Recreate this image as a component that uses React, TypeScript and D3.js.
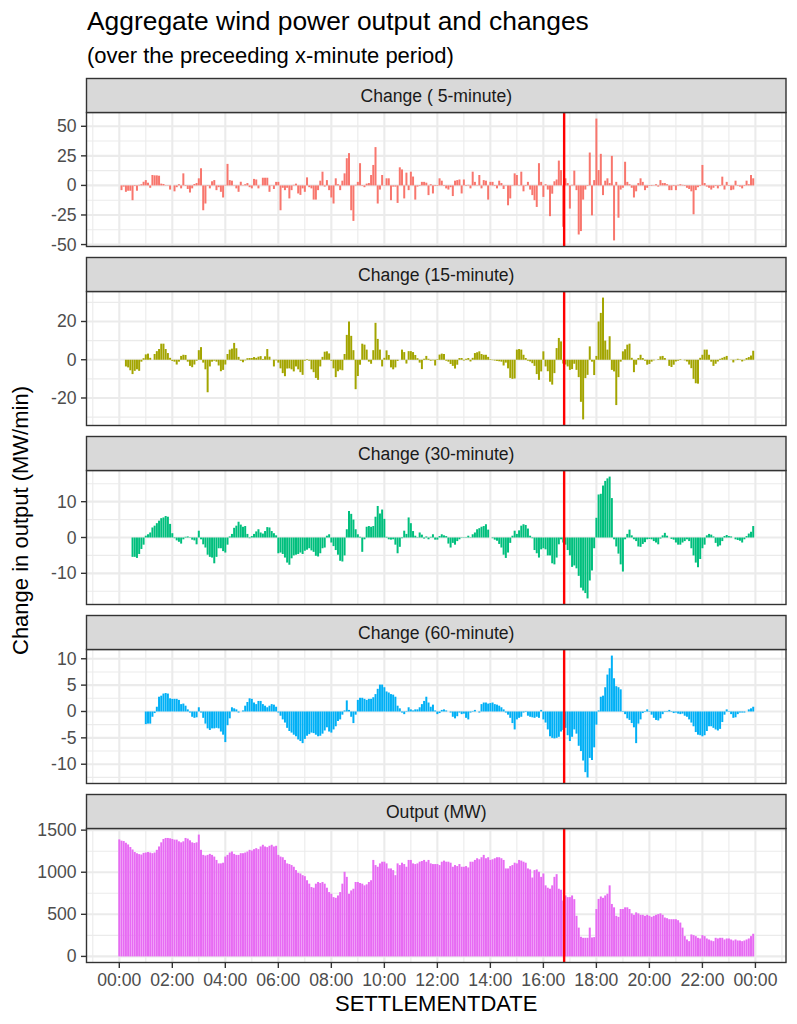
import React from "react";
import * as d3 from "d3";

// ---------------- data ----------------
const facetLabels = [
  "Change ( 5-minute)",
  "Change (15-minute)",
  "Change (30-minute)",
  "Change (60-minute)",
  "Output (MW)",
];
const facetColors = ["#F8766D", "#A3A500", "#00BF7D", "#00B0F6", "#E76BF3"];
const stepMinutes = 5;
const markerHour = 16;
const markerMinute = 47;

// MW/min change over preceding 5 minutes (one row per hour, 5-min steps)
const change5: (number | null)[] = [
  null, -4.0, -1.0, -5.4, -4.5, -4.5, -12.5, -0.5, -4.5, 0.5, 1.0, 3.1,
  4.5, 2.3, -2.0, 8.8, 8.5, 8.5, 8.2, 1.5, 1.2, 0.3, 0.3, -3.5,
  0.0, -5.0, -1.5, 1.0, -2.5, 10.2, -0.5, -3.0, -6.0, -2.5, 1.2, 2.0,
  6.0, 14.5, -21.0, -15.3, -0.5, -2.5, 3.5, 4.5, -4.0, -1.5, -5.4, -10.2,
  0.5, 18.2, 4.5, 4.0, 0.3, -2.5, -5.4, 3.1, 0.3, 1.0, 2.0, -1.5,
  -2.5, 5.5, 5.0, -2.5, 0.0, 6.5, 6.5, 6.5, -5.4, 0.3, -3.0, 3.0,
  3.0, -21.0, -2.0, -4.0, -2.0, -11.0, -4.0, 0.5, 1.5, -6.8, -8.0, -2.5,
  -5.4, 6.8, -1.5, -2.5, -12.0, -12.0, -4.0, 4.0, 11.6, -1.0, 4.5, -4.0,
  -10.2, -15.3, 6.0, 1.0, -4.0, 4.0, 10.2, 23.0, 27.3, -21.0, -30.0, 0.5,
  3.0, 18.8, -0.5, -1.5, 1.5, 2.0, 8.8, 17.3, 32.4, -15.3, -3.5, 8.8,
  0.3, 6.0, 6.0, -12.5, -1.0, -1.0, -14.8, 15.3, 13.5, -11.0, 10.8, -4.0,
  11.6, 7.5, -12.0, -1.0, -0.5, 3.0, 3.0, 2.3, -8.2, 1.0, -6.8, -0.5,
  -0.5, 6.0, 4.0, -0.5, -2.5, -3.5, -1.5, -9.0, 4.0, 4.5, 5.0, -6.8,
  5.0, -0.5, 0.5, -2.5, 11.6, 3.0, 0.3, 8.8, -2.5, 4.5, 4.0, -12.0,
  3.0, 3.0, -0.5, -2.5, 4.0, 2.0, -3.0, 0.3, -16.8, -11.0, 0.3, 10.2,
  8.8, 0.3, 11.6, -5.0, -0.5, 3.0, -3.5, -8.2, -12.5, -18.2, 18.8, 3.0,
  -9.7, 1.0, -3.5, -26.0, -7.0, 3.5, 5.0, 21.0, 13.0, -35.0, 6.0, 2.0,
  -19.6, 0.5, 12.5, -4.0, -41.5, -38.6, -12.0, -3.5, -0.5, 27.8, -25.3, 4.5,
  56.5, 13.0, 26.7, -8.2, 4.0, 6.0, 2.0, 25.0, -46.5, 3.0, -27.3, -3.5,
  -2.0, 20.0, 3.0, 1.0, -2.0, -10.2, -5.0, 2.0, 6.0, 3.0, -4.0, -2.0,
  -0.5, -0.5, 0.3, 1.0, -1.0, 4.5, 2.0, 2.0, 1.0, -4.0, -4.0, -0.5,
  -4.0, 0.5, 1.0, 0.5, -0.5, -2.0, -3.0, -5.0, -24.4, -4.0, -1.5, -0.5,
  17.3, 2.0, -1.0, -2.0, -3.5, -2.0, -0.5, -2.5, -0.5, 7.4, -3.5, 3.0,
  -0.5, -4.0, -3.5, 4.0, -0.5, -1.0, -2.5, -0.5, 4.0, 1.0, 8.8, 6.0,
];

const change15: (number | null)[] = [
  null, null, null, -3.5, -4.0, -5.5, -7.5, -5.8, -5.0, -5.8, -1.0, 0.8,
  2.8, 3.2, 1.0, 0.0, 3.0, 4.5, 5.6, 8.4, 8.4, 5.6, 3.5, 1.0,
  -0.6, -1.0, -2.5, -1.0, 2.0, 2.6, 2.5, -1.0, -3.2, -3.9, -2.5, -0.5,
  5.0, 6.6, -1.5, -5.0, -17.0, -3.5, -1.0, -0.5, -1.0, -3.0, -6.0, -5.3,
  -2.5, 3.0, 5.3, 5.8, 8.8, 6.0, 1.5, -0.5, -1.3, -0.3, 0.8, 0.9,
  0.9, 1.4, 1.0, 1.6, 1.9, 0.4, 1.8, 5.6, 1.6, 0.0, -3.5, -0.3,
  -1.5, -4.5, -7.0, -8.6, -4.6, -4.5, -5.0, -6.1, -3.5, -5.0, -6.5, -7.9,
  -0.5, 0.3, -0.5, -5.0, -6.5, -9.5, -10.5, -3.5, 1.5, 4.2, 4.4, 3.3,
  -0.5, -4.5, -9.1, -6.0, -5.2, -5.5, 3.0, 13.0, 20.0, 12.5, 5.0, -15.4,
  -8.5, -2.6, 8.4, 7.9, 5.3, -1.0, -2.1, 5.0, 19.3, 10.9, 5.3, -3.5,
  1.0, 4.9, 2.5, -4.0, -5.0, -4.0, -0.6, 0.0, 5.3, 4.0, -2.0, 4.5,
  4.5, 4.0, 2.5, 0.8, -1.5, -4.9, 0.5, 2.0, 0.5, -0.5, -0.3, -3.0,
  0.3, 2.7, 3.2, 3.0, -0.5, -1.0, -2.2, -3.2, -4.6, -2.6, 0.9, 0.9,
  -0.4, 0.5, 0.9, -0.9, 1.0, 3.5, 3.9, 4.4, 3.0, 2.6, 2.6, 1.5,
  0.3, -0.2, -0.4, -0.6, -0.8, -1.0, -3.0, -1.5, -4.5, -9.5, -10.0, -9.8,
  5.3, 5.6, 5.3, 2.6, 0.9, -0.5, -0.9, -1.8, -3.2, -7.5, -10.5, -6.1,
  4.4, -3.5, -6.0, -11.5, -13.0, -7.0, 6.1, 11.4, 9.6, -2.0, -2.5, -3.5,
  -5.3, -4.9, -2.1, -5.3, -9.1, -22.0, -31.2, -9.6, -7.9, 7.0, -1.0, -8.0,
  2.0, 20.0, 24.5, 32.5, 10.0, 5.3, 12.3, -5.3, -6.1, -23.7, -9.1, -1.0,
  4.4, 5.5, 7.9, 8.4, 1.0, -6.5, -2.6, 0.9, 2.6, 0.9, -0.5, -2.6,
  -2.2, -1.0, -0.3, 0.0, 0.3, 1.8, 2.0, 0.9, 0.0, -3.2, -3.8, -2.6,
  -0.9, -0.5, 0.3, 0.0, -0.3, -0.9, -2.5, -4.4, -10.0, -12.3, -12.5, 1.0,
  2.6, 5.3, 5.3, 2.6, -1.0, -3.2, -2.1, -0.9, 0.5, 1.0, 1.5, 2.0,
  0.0, -0.1, -1.4, -0.2, 0.5, 0.2, -0.9, -0.3, 0.9, 1.4, 2.2, 4.7,
];

const change30: (number | null)[] = [
  null, null, null, null, null, null, -5.4, -5.4, -5.7, -4.6, -3.2, -2.0,
  0.5, 0.9, 1.4, 2.8, 3.3, 4.0, 4.7, 5.4, 5.6, 6.0, 5.8, 3.8,
  1.2, -0.2, -0.8, -1.2, -1.7, -0.5, 0.2, 0.3, -0.1, -0.6, -0.8, -1.9,
  1.9, -0.5, -1.9, -2.8, -4.8, -5.4, -5.6, -7.2, -5.4, -3.0, -3.0, -3.8,
  -4.2, -2.0, 0.3, 1.0, 2.7, 3.3, 4.4, 3.6, 3.0, 3.2, 1.0, -0.2,
  0.4, 1.0, 1.7, 2.3, 1.4, 1.1, 1.8, 2.9, 2.8, 1.8, 1.2, 0.6,
  -4.4, -4.2, -4.6, -5.6, -7.0, -7.6, -5.8, -5.0, -4.8, -4.6, -4.2, -4.6,
  -3.7, -3.4, -3.0, -3.6, -4.0, -5.1, -5.3, -4.4, -3.0, -2.8, 0.5, 0.9,
  -1.4, -2.4, -3.5, -4.8, -6.5, -6.7, -5.0, 2.3, 7.4, 6.6, 5.0, 2.3,
  0.9, 0.2, -4.0, -0.5, 3.0, 3.2, 3.0, 3.2, 5.8, 8.8, 6.7, 7.8,
  5.2, 0.2, -0.5, -0.6, -0.5, -2.0, -4.4, -2.6, -0.2, 1.9, 1.0, 5.6,
  4.0, 1.8, 0.5, 0.1, 1.4, 0.8, -0.3, 0.3, -0.5, 0.2, 0.9, -0.6,
  -0.6, 0.4, 0.9, 0.6, 0.4, -1.7, -2.8, -1.5, -2.0, -1.0, -0.5, 0.1,
  0.1, -0.1, 0.5, 0.1, 0.9, 1.4, 2.3, 2.6, 3.0, 3.2, 3.7, 2.2,
  0.0, -0.2, -0.6, -0.9, -1.8, -2.8, -4.8, -5.7, -4.2, -1.5, 0.5, 1.9,
  1.0, 2.0, 3.3, 3.7, 3.5, 2.5, 0.5, -0.2, -3.5, -4.4, -5.6, -3.3,
  -3.0, -3.3, -5.0, -5.0, -7.2, -7.5, -5.6, -1.9, -0.5, -1.4, -2.0, -3.5,
  -5.0, -8.2, -7.8, -8.6, -10.7, -14.0, -14.8, -15.5, -17.0, -12.0, -9.2, -3.0,
  5.5, 12.0, 12.2, 14.5, 15.8, 16.5, 17.0, 11.0, -0.5, -2.5, -4.5, -7.5,
  -9.5, -0.5, 1.0, 2.2, 0.6, -0.5, -1.0, -2.5, -2.6, -1.8, -1.3, -0.5,
  -0.4, -0.5, -1.0, -1.4, -1.9, -0.3, 0.6, 1.3, 0.5, 0.0, -0.4, -0.6,
  -1.4, -2.0, -2.0, -1.4, -1.0, -0.5, -1.0, -3.0, -5.0, -7.0, -8.3, -6.0,
  -3.0, -2.0, 0.6, 1.0, 0.8, 0.3, -1.5, -2.5, -2.2, -1.0, 0.4, 0.7,
  0.4, 0.3, 0.0, -0.5, -0.7, -0.9, -1.4, -0.5, 0.4, 1.1, 1.6, 3.2,
];

const change60: (number | null)[] = [
  null, null, null, null, null, null, null, null, null, null, null, null,
  -2.4, -2.3, -2.3, -1.0, -0.3, 0.9, 2.8, 3.0, 3.4, 3.5, 3.4, 2.5,
  2.4, 2.4, 2.4, 2.2, 1.4, 1.5, 1.1, 0.4, -0.2, -1.0, -1.2, -1.1,
  0.8, -0.2, -1.2, -2.3, -3.2, -3.5, -3.2, -3.2, -3.1, -3.2, -3.8, -4.4,
  -5.8, -2.6, -1.3, 0.8, 0.6, 0.4, -0.2, 0.0, 0.2, 1.1, 1.8, 2.5,
  2.4, 1.7, 1.4, 2.0, 2.0, 1.4, 1.1, 0.8, 1.1, 1.4, 1.3, 0.9,
  -0.2, -0.8, -1.5, -2.1, -3.1, -3.7, -4.0, -4.4, -4.7, -5.3, -5.6, -6.0,
  -5.2, -4.6, -4.3, -4.0, -4.1, -4.4, -4.7, -4.6, -4.2, -3.6, -3.0, -3.8,
  -4.0, -3.4, -2.8, -1.8, -1.5, -0.6, 0.2, 2.1, 0.3, -1.0, -2.2, -0.6,
  2.2, 2.6, 2.6, 2.4, 2.2, 2.4, 2.4, 2.7, 3.3, 4.3, 5.1, 5.1,
  4.6, 3.8, 3.6, 3.3, 3.2, 2.8, 1.1, 0.6, -0.2, -0.5, 0.1, 0.8,
  0.4, 0.2, 0.4, 0.4, 0.8, 1.4, 2.0, 2.8, 1.7, 0.9, 1.3, 0.2,
  -0.5, -0.3, 0.3, 0.4, 0.2, 0.0, -0.2, -1.0, -1.3, -0.9, -0.2, -0.5,
  -0.4, -1.2, -1.5, -0.2, 0.1, 0.3, 0.0, -0.2, 1.4, 1.7, 1.7, 1.5,
  1.6, 1.7, 1.4, 1.3, 1.1, 0.8, 0.4, -0.2, -0.6, -1.2, -2.2, -3.4,
  -1.5, -1.2, -1.0, -0.2, 0.1, -0.8, -1.0, -1.1, -1.2, -1.0, -1.2, 0.3,
  -1.5, -2.1, -3.4, -4.7, -5.0, -5.1, -5.0, -4.8, -3.8, -3.5, -3.1, -4.5,
  -5.6, -4.8, -3.4, -4.2, -6.5, -7.5, -9.3, -11.5, -12.5, -8.8, -9.2, -6.8,
  -2.5, 0.2, 2.8, 3.0, 4.6, 7.0, 8.2, 10.6, 6.3, 4.8, 4.6, 4.2,
  0.1, -0.5, -1.3, -1.6, -2.2, -3.0, -6.0, -2.3, -1.5, -0.3, -0.1, 0.4,
  0.1, -0.6, -1.2, -1.6, -1.7, -1.3, -0.5, 0.1, 0.1, 0.3, -0.1, -0.3,
  -0.2, -0.4, -0.5, -0.4, -0.8, -1.0, -1.5, -2.1, -2.8, -3.9, -4.4, -4.5,
  -4.7, -4.5, -3.7, -2.8, -2.8, -3.1, -3.4, -3.6, -3.3, -2.0, -0.6, 0.4,
  0.1, -0.5, -1.2, -1.1, -0.5, -0.2, -0.2, -0.2, 0.0, 0.4, 0.6, 0.9,
];

// aggregate output, MW
const output: number[] = [
  1390, 1375, 1370, 1350, 1330, 1300, 1270, 1240, 1225, 1215, 1210, 1230,
  1234, 1240, 1234, 1226, 1234, 1266, 1306, 1355, 1395, 1407, 1407, 1403,
  1395, 1387, 1387, 1367, 1355, 1367, 1407, 1399, 1379, 1355, 1347, 1355,
  1447, 1266, 1206, 1198, 1206, 1218, 1206, 1186, 1146, 1105, 1105, 1113,
  1186, 1206, 1234, 1246, 1218, 1206, 1206, 1226, 1226, 1234, 1246, 1266,
  1258, 1274, 1286, 1274, 1306, 1326, 1306, 1298, 1314, 1326, 1306, 1314,
  1206, 1186, 1178, 1146, 1105, 1097, 1085, 1065, 1025, 993, 985, 965,
  953, 905, 864, 824, 816, 864, 884, 872, 884, 864, 816, 764,
  744, 704, 696, 724, 764, 864, 1005, 945, 744, 784, 804, 884,
  884, 872, 864, 844, 856, 884, 905, 1146, 1085, 1065, 1105, 1125,
  1125, 1105, 1045, 1045, 1025, 965, 1105, 1085, 1113, 1097, 1065, 1146,
  1146, 1105, 1097, 1105, 1125, 1133, 1146, 1125, 1146, 1105, 1097, 1097,
  1097, 1085, 1125, 1138, 1125, 1125, 1113, 1065, 1085, 1073, 1097, 1065,
  1065, 1073, 1057, 1125, 1125, 1146, 1166, 1154, 1178, 1206, 1166, 1178,
  1146, 1154, 1166, 1178, 1178, 1166, 1146, 1045, 1045, 1073, 1085, 1113,
  1105, 1146, 1138, 1125, 1113, 1045, 1033, 937, 1025, 1033, 1005, 945,
  985, 844, 816, 804, 844, 945, 977, 804, 792, 663, 724, 704,
  704, 724, 680, 482, 342, 233, 221, 221, 221, 342, 225, 229,
  563, 683, 712, 696, 724, 744, 844, 623, 583, 482, 470, 563,
  563, 583, 583, 563, 511, 494, 523, 511, 494, 494, 482, 494,
  482, 470, 482, 494, 503, 511, 494, 462, 454, 442, 442, 442,
  442, 430, 402, 342, 241, 201, 181, 261, 253, 241, 221, 213,
  253, 241, 213, 201, 189, 181, 221, 213, 221, 221, 201, 213,
  213, 201, 189, 201, 189, 189, 181, 189, 201, 213, 241, 269,
];

const facetSeries = [change5, change15, change30, change60, output];
const yTickValues = [
  [-50, -25, 0, 25, 50],
  [-20, 0, 20],
  [-10, 0, 10],
  [-10, -5, 0, 5, 10],
  [0, 500, 1000, 1500],
];
const xTickHours = [0, 2, 4, 6, 8, 10, 12, 14, 16, 18, 20, 22, 24];

const titleText = "Aggregate wind power output and changes";
const subtitleText = "(over the preceeding x-minute period)";
const xTitle = "SETTLEMENTDATE";
const yTitle = "Change in output (MW/min)";

// ---------------- layout ----------------
const W = 797;
const H = 1024;
const panelLeft = 86.5;
const panelRight = 786;
const firstStripTop = 78.5;
const stripH = 34;
const plotH = 134;
const panelGap = 11;
const FONT = "'Liberation Sans', Arial, Helvetica, sans-serif";

export default function App() {
  const base = new Date(2021, 0, 1, 0, 0, 0);
  const n = output.length;
  const times = d3.range(n).map((i) => d3.timeMinute.offset(base, i * stepMinutes));
  const stepMs = stepMinutes * 60 * 1000;
  const lo = +times[0] - stepMs * 0.45;
  const hi = +times[n - 1] + stepMs * 0.45;
  const pad = (hi - lo) * 0.05;
  const x = d3
    .scaleTime()
    .domain([new Date(lo - pad), new Date(hi + pad)])
    .range([panelLeft, panelRight]);
  const bw = x(new Date(+base + stepMs * 0.9)) - x(base);
  const majorX = xTickHours.map((h) => d3.timeHour.offset(base, h));
  const minorX = d3
    .range(-1, 26, 2)
    .map((h) => d3.timeHour.offset(base, h))
    .filter((d) => x(d) > panelLeft && x(d) < panelRight);
  const fmt = d3.timeFormat("%H:%M");
  const marker = d3.timeMinute.offset(d3.timeHour.offset(base, markerHour), markerMinute);
  const mx = x(marker);

  const panels = facetSeries.map((series, k) => {
    const stripTop = firstStripTop + k * (stripH + plotH + panelGap);
    const top = stripTop + stripH;
    const bottom = top + plotH;
    const vals = series.filter((v) => v != null) as number[];
    const ymin = Math.min(0, d3.min(vals) as number);
    const ymax = Math.max(0, d3.max(vals) as number);
    const yp = (ymax - ymin) * 0.05;
    const y = d3.scaleLinear().domain([ymin - yp, ymax + yp]).range([bottom, top]);
    const ticks = yTickValues[k];
    const step = ticks[1] - ticks[0];
    const minorY = d3
      .range(ticks[0] - step / 2, ticks[ticks.length - 1] + step, step)
      .filter((v) => y(v) > top && y(v) < bottom);
    return (
      <g key={k}>
        <rect x={panelLeft} y={top} width={panelRight - panelLeft} height={plotH} fill="#FFFFFF" />
        {minorX.map((d, i) => (
          <line key={"mx" + i} x1={x(d)} x2={x(d)} y1={top} y2={bottom} stroke="#EBEBEB" strokeWidth={1.1} />
        ))}
        {minorY.map((v, i) => (
          <line key={"my" + i} x1={panelLeft} x2={panelRight} y1={y(v)} y2={y(v)} stroke="#EBEBEB" strokeWidth={1.1} />
        ))}
        {majorX.map((d, i) => (
          <line key={"Mx" + i} x1={x(d)} x2={x(d)} y1={top} y2={bottom} stroke="#EBEBEB" strokeWidth={2.1} />
        ))}
        {ticks.map((v, i) => (
          <line key={"My" + i} x1={panelLeft} x2={panelRight} y1={y(v)} y2={y(v)} stroke="#EBEBEB" strokeWidth={2.1} />
        ))}
        {series.map((v, i) =>
          v == null ? null : (
            <rect
              key={"b" + i}
              x={x(times[i]) - bw / 2}
              y={y(Math.max(0, v))}
              width={bw}
              height={Math.abs(y(v) - y(0))}
              fill={facetColors[k]}
            />
          )
        )}
        <line x1={mx} x2={mx} y1={top} y2={bottom} stroke="#FF0000" strokeWidth={2.4} />
        <rect x={panelLeft} y={top} width={panelRight - panelLeft} height={plotH} fill="none" stroke="#333333" strokeWidth={1.4} />
        {/* strip */}
        <rect x={panelLeft} y={stripTop} width={panelRight - panelLeft} height={stripH} fill="#D9D9D9" stroke="#333333" strokeWidth={1.4} />
        <text
          x={(panelLeft + panelRight) / 2}
          y={stripTop + stripH / 2}
          textAnchor="middle"
          dominantBaseline="central"
          fontSize={17.6}
          fill="#1A1A1A"
        >
          {facetLabels[k]}
        </text>
        {/* y axis */}
        {ticks.map((v, i) => (
          <g key={"yt" + i}>
            <line x1={panelLeft - 5.5} x2={panelLeft} y1={y(v)} y2={y(v)} stroke="#333333" strokeWidth={1.4} />
            <text x={panelLeft - 10} y={y(v)} textAnchor="end" dominantBaseline="central" fontSize={17.6} fill="#4D4D4D">
              {String(v)}
            </text>
          </g>
        ))}
        {k === facetSeries.length - 1 &&
          majorX.map((d, i) => (
            <g key={"xt" + i}>
              <line x1={x(d)} x2={x(d)} y1={bottom} y2={bottom + 5.5} stroke="#333333" strokeWidth={1.4} />
              <text x={x(d)} y={bottom + 23} textAnchor="middle" fontSize={17.6} fill="#4D4D4D">
                {fmt(d)}
              </text>
            </g>
          ))}
      </g>
    );
  });

  const lastBottom = firstStripTop + 5 * (stripH + plotH) + 4 * panelGap;

  return (
    <svg
      width={W}
      height={H}
      viewBox={`0 0 ${W} ${H}`}
      style={{ position: "absolute", left: 0, top: 0, background: "#FFFFFF" }}
      fontFamily={FONT}
    >
      <rect x={0} y={0} width={W} height={H} fill="#FFFFFF" />
      <text x={87} y={30} fontSize={26.4} fill="#000000">
        {titleText}
      </text>
      <text x={87} y={62.5} fontSize={22} fill="#000000">
        {subtitleText}
      </text>
      {panels}
      <text x={(panelLeft + panelRight) / 2} y={lastBottom + 48} textAnchor="middle" fontSize={22} fill="#000000">
        {xTitle}
      </text>
      <text
        transform={`translate(28, ${(firstStripTop + lastBottom) / 2}) rotate(-90)`}
        textAnchor="middle"
        fontSize={22}
        fill="#000000"
      >
        {yTitle}
      </text>
    </svg>
  );
}
